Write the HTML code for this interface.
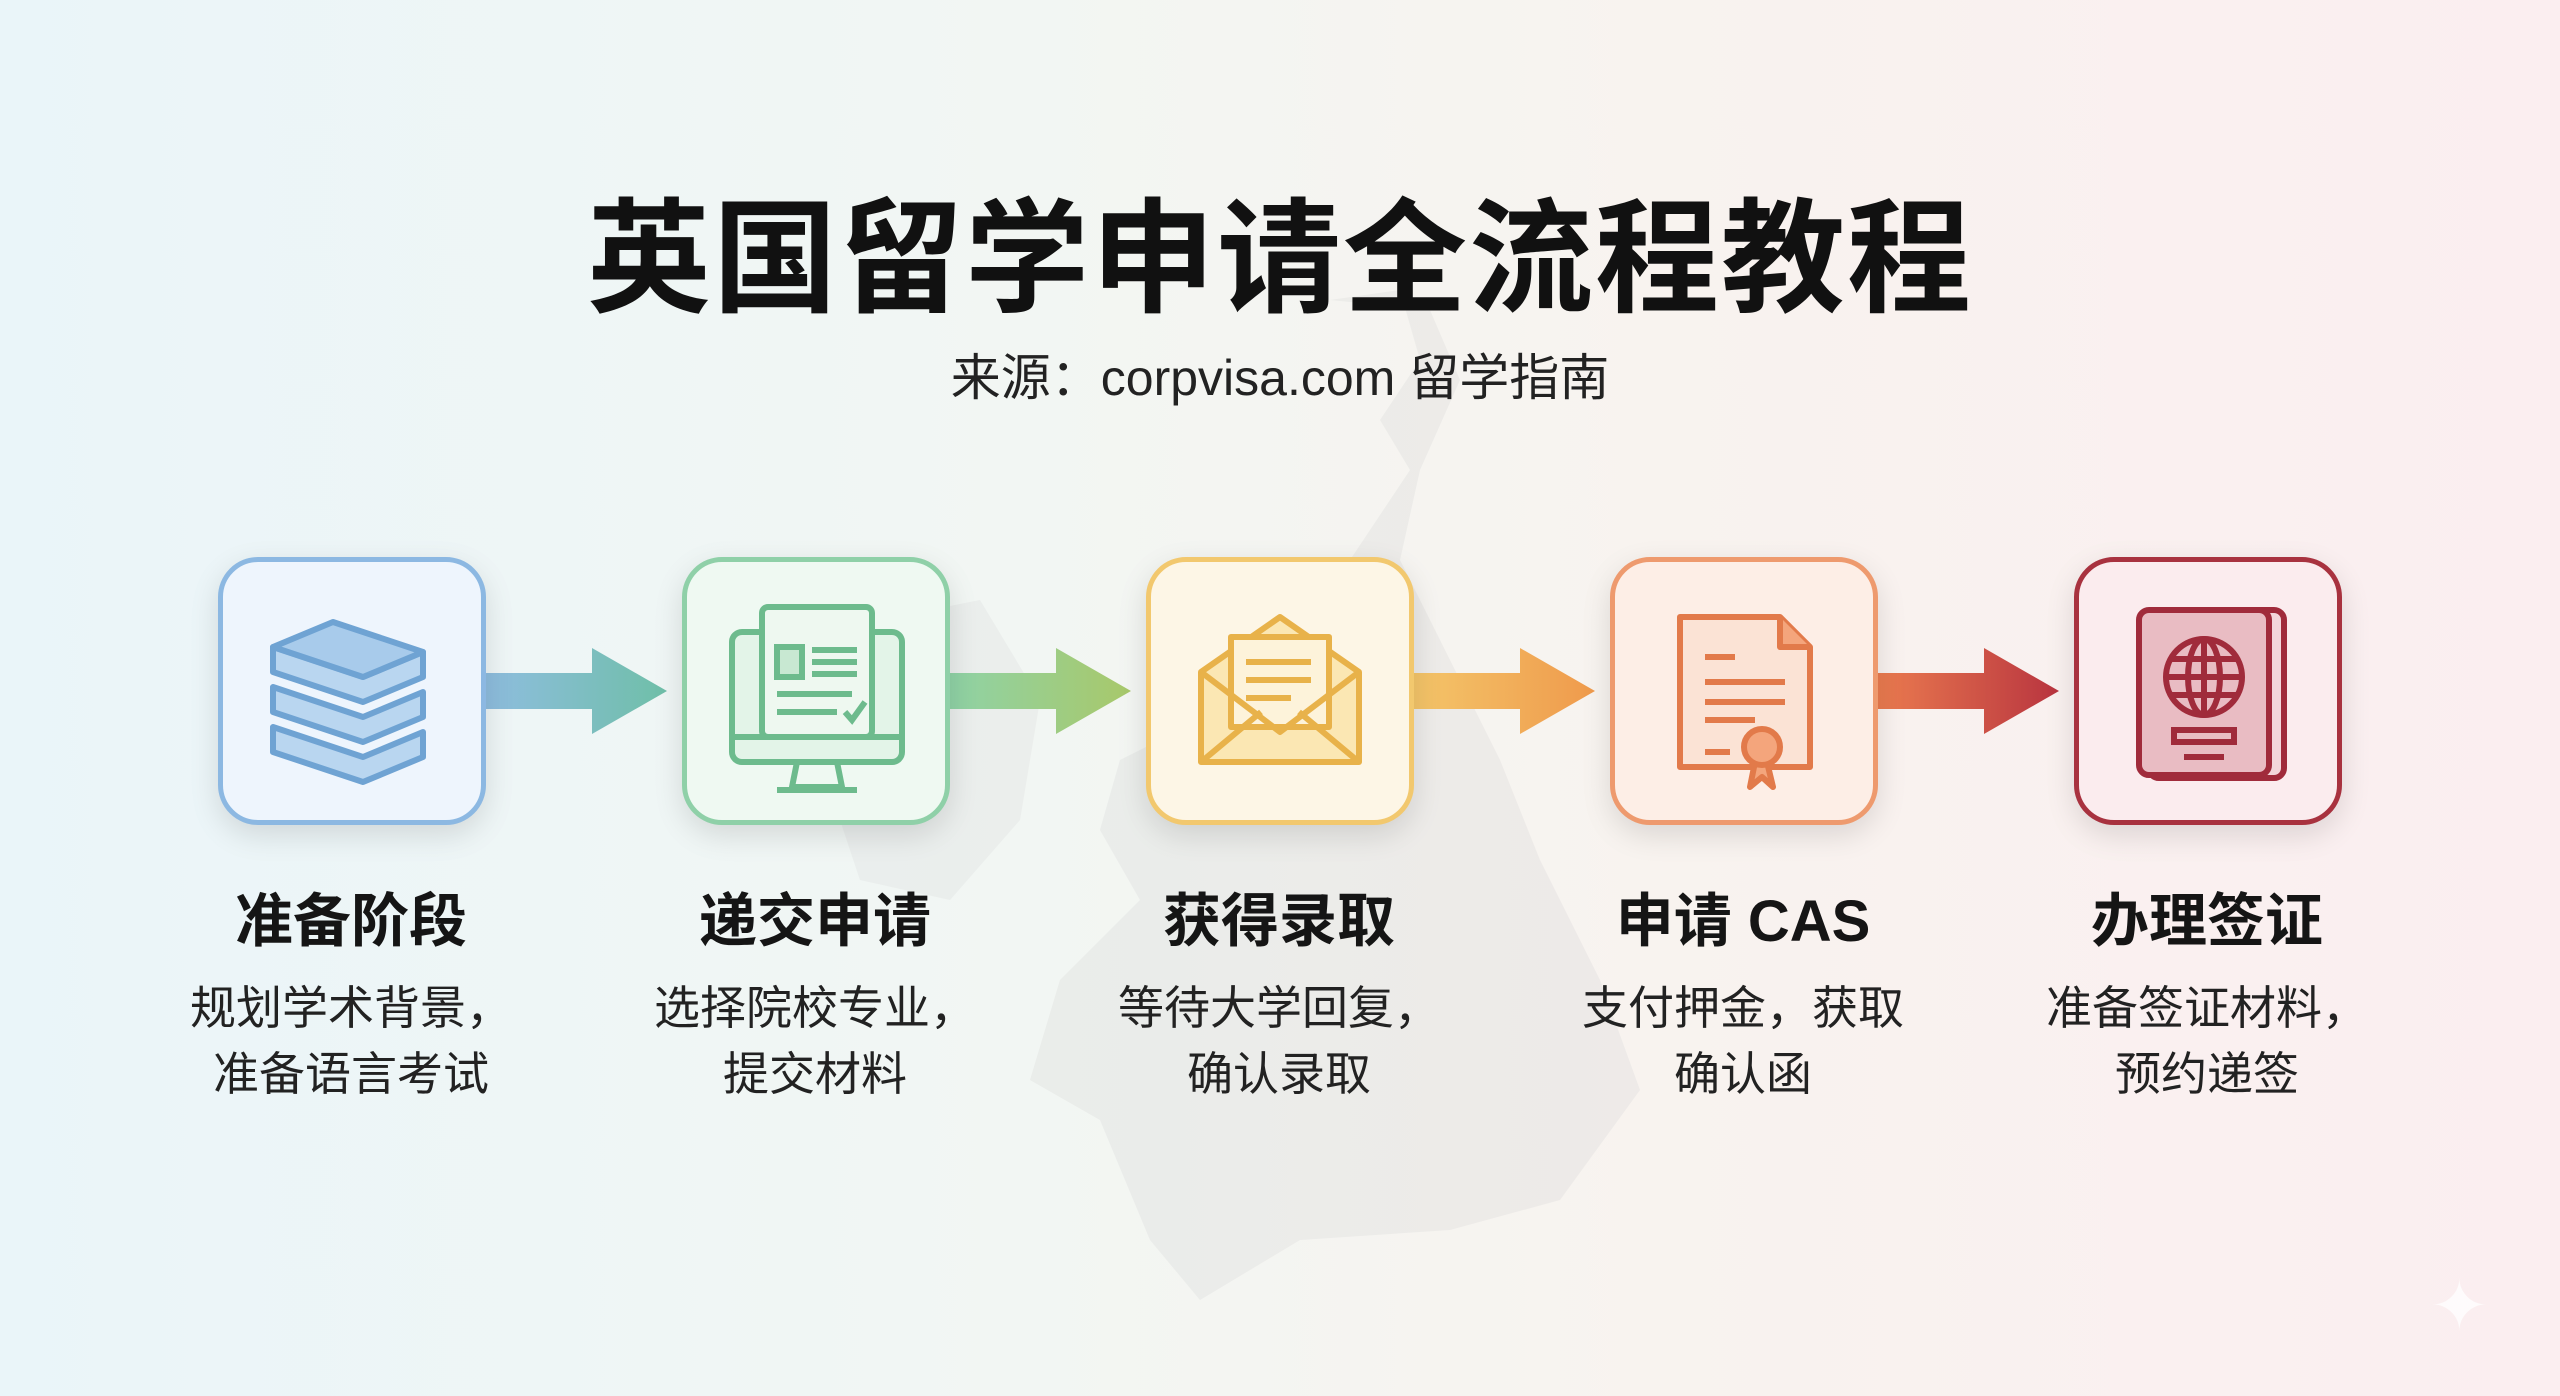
<!DOCTYPE html>
<html><head><meta charset="utf-8"><style>
*{margin:0;padding:0;box-sizing:border-box}
body{width:2560px;height:1396px;overflow:hidden;font-family:"Liberation Sans","Noto Sans CJK SC",sans-serif;background:linear-gradient(90deg,#eaf5f9 0%,#f2f6f3 40%,#f8f3ef 65%,#fbeef0 100%);position:relative}
.t{position:absolute;left:0;width:2560px;text-align:center}
.box{position:absolute;top:557px;width:268px;height:268px;border-radius:40px;border:5px solid;box-shadow:0 10px 30px rgba(0,0,0,.12)}
.lab{position:absolute;width:460px;text-align:center;font-weight:bold;font-size:58px;top:874px;color:#151515}
.desc{position:absolute;width:460px;text-align:center;font-size:46px;top:975px;line-height:66px;color:#222}
.arr{position:absolute;top:648px;height:86px}
</style></head><body>
<svg style="position:absolute;left:0;top:0" width="2560" height="1396">
<path d="M1330 300 L1400 290 L1420 360 L1380 420 L1410 470 L1350 560 L1300 580 L1240 640 L1200 720 L1120 760 L1100 830 L1140 900 L1060 980 L1030 1080 L1100 1120 L1150 1240 L1200 1300 L1300 1240 L1450 1230 L1560 1200 L1640 1090 L1600 980 L1540 860 L1500 760 L1450 660 L1400 560 L1420 470 L1460 380 L1430 310 Z" fill="#d8d8d8" opacity="0.3"/>
<path d="M880 620 L980 600 L1040 700 L1020 820 L950 900 L860 880 L820 760 Z" fill="#d8d8d8" opacity="0.25"/>
</svg>
<div class="t" style="top:158px;font-size:124px;font-weight:bold;color:#111;letter-spacing:2px">英国留学申请全流程教程</div>
<div class="t" style="top:338px;font-size:50px;color:#222">来源：corpvisa.com 留学指南</div>

<svg class="arr" style="left:482px" width="190" height="86"><defs><linearGradient id="a1"><stop offset="0" stop-color="#8fbde0"/><stop offset="1" stop-color="#6fbfa8"/></linearGradient></defs><path d="M0 25 H110 V0 L185 43 L110 86 V61 H0Z" fill="url(#a1)"/></svg>
<svg class="arr" style="left:946px" width="190" height="86"><defs><linearGradient id="a2"><stop offset="0" stop-color="#8fd3a8"/><stop offset="1" stop-color="#a8c86a"/></linearGradient></defs><path d="M0 25 H110 V0 L185 43 L110 86 V61 H0Z" fill="url(#a2)"/></svg>
<svg class="arr" style="left:1410px" width="190" height="86"><defs><linearGradient id="a3"><stop offset="0" stop-color="#f4c66a"/><stop offset="1" stop-color="#ef9a4c"/></linearGradient></defs><path d="M0 25 H110 V0 L185 43 L110 86 V61 H0Z" fill="url(#a3)"/></svg>
<svg class="arr" style="left:1874px" width="190" height="86"><defs><linearGradient id="a4"><stop offset="0" stop-color="#ec7d50"/><stop offset="1" stop-color="#b8343f"/></linearGradient></defs><path d="M0 25 H110 V0 L185 43 L110 86 V61 H0Z" fill="url(#a4)"/></svg>

<div class="box" style="left:218px;border-color:#8cb8e2;background:#eef5fd">
<svg width="258" height="258" viewBox="0 0 258 258"><g fill="#b9d6f0" stroke="#6fa3d3" stroke-width="6" stroke-linejoin="round">
<path d="M50 190 L140 220 L200 195 L200 170 L140 195 L50 165Z"/>
<path d="M50 150 L140 180 L200 155 L200 130 L140 155 L50 125Z"/>
<path d="M50 110 L140 140 L200 115 L200 90 L140 115 L50 85Z"/>
<path d="M50 85 L110 60 L200 90 L140 115Z" fill="#a8cbeb"/></g></svg></div>
<div class="box" style="left:682px;border-color:#8fd0a8;background:#eff9f2">
<svg width="258" height="258" viewBox="0 0 258 258"><g fill="none" stroke="#6dbb8d" stroke-width="6">
<rect x="45" y="70" width="170" height="130" rx="10" fill="#e3f4e8"/><rect x="75" y="45" width="110" height="130" rx="6" fill="#eef8f0"/>
<path d="M45 175 H215 M110 200 L105 225 H155 L150 200 M90 228 H170"/>
<rect x="90" y="85" width="25" height="30" fill="#c8e8d2"/><path d="M125 88 H170 M125 100 H170 M125 112 H170 M90 132 H165 M90 150 H150 M158 150 L165 158 L178 140"/></g></svg></div>
<div class="box" style="left:1146px;border-color:#f2c86e;background:#fdf6e6">
<svg width="258" height="258" viewBox="0 0 258 258"><g fill="#fbe7b3" stroke="#e8b24a" stroke-width="6" stroke-linejoin="round">
<path d="M50 110 L129 55 L208 110 V200 H50Z"/><rect x="80" y="75" width="98" height="90" fill="#fdf3da"/>
<path d="M95 100 H160 M95 118 H160 M95 136 H140" fill="none"/>
<path d="M50 110 L129 170 L208 110 M50 200 L110 150 M208 200 L148 150" fill="none"/></g></svg></div>
<div class="box" style="left:1610px;border-color:#ee9a6e;background:#fdeee6">
<svg width="258" height="258" viewBox="0 0 258 258"><g fill="none" stroke="#e27a4a" stroke-width="6" stroke-linejoin="round">
<path d="M65 55 H165 L195 85 V205 H65Z" fill="#fbe3d5"/><path d="M165 55 V85 H195" fill="#f4a57c"/>
<path d="M90 95 H120 M90 120 H170 M90 140 H170 M90 158 H140 M90 190 H115"/>
<path d="M140 200 L135 225 L147 215 L158 225 L152 200" fill="#f4a57c"/><circle cx="147" cy="185" r="18" fill="#f4a57c"/></g></svg></div>
<div class="box" style="left:2074px;border-color:#a8323f;background:#fbecee">
<svg width="258" height="258" viewBox="0 0 258 258"><g fill="none" stroke="#a02b3b" stroke-width="6">
<rect x="70" y="48" width="135" height="168" rx="10" fill="#f3d6da"/><rect x="60" y="48" width="130" height="165" rx="10" fill="#e9bcc3"/>
<circle cx="125" cy="115" r="38"/><ellipse cx="125" cy="115" rx="16" ry="38"/><path d="M87 115 H163 M92 97 H158 M92 133 H158 M125 77 V153"/>
<rect x="95" y="168" width="60" height="12"/><path d="M105 195 H145"/></g></svg></div>

<div class="lab" style="left:121px">准备阶段</div>
<div class="lab" style="left:585px">递交申请</div>
<div class="lab" style="left:1049px">获得录取</div>
<div class="lab" style="left:1513px">申请 CAS</div>
<div class="lab" style="left:1977px">办理签证</div>
<div class="desc" style="left:121px">规划学术背景，<br>准备语言考试</div>
<div class="desc" style="left:585px">选择院校专业，<br>提交材料</div>
<div class="desc" style="left:1049px">等待大学回复，<br>确认录取</div>
<div class="desc" style="left:1513px">支付押金，获取<br>确认函</div>
<div class="desc" style="left:1977px">准备签证材料，<br>预约递签</div>
<div style="position:absolute;left:2430px;top:1265px;font-size:70px;color:#fff;opacity:.8">✦</div>
</body></html>
